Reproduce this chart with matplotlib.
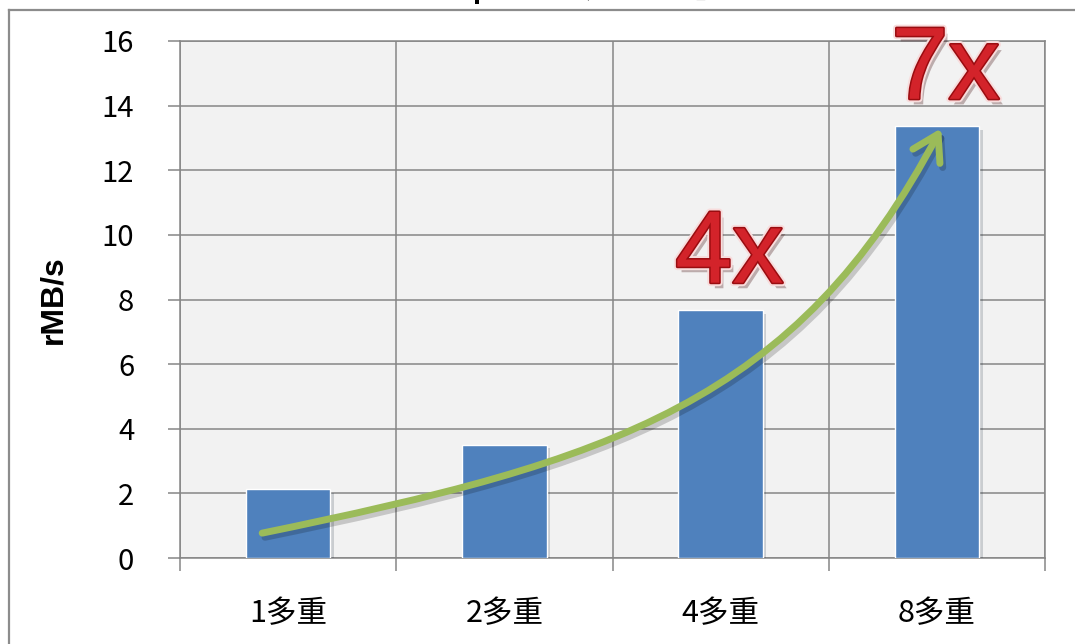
import matplotlib
matplotlib.use("Agg")
import matplotlib.pyplot as plt
import matplotlib.patheffects as pe
import matplotlib.transforms as mtransforms
from matplotlib.path import Path
from matplotlib.patches import FancyArrowPatch
from matplotlib.lines import Line2D

plt.rcParams['font.family'] = ['Noto Sans CJK JP', 'DejaVu Sans']

# Replicat throughput by degree of parallelism
categories = ['1多重', '2多重', '4多重', '8多重']
throughput = [2.12, 3.50, 7.67, 13.36]
speedup_labels = {2: '4x', 3: '7x'}
y_ticks = [0, 2, 4, 6, 8, 10, 12, 14, 16]
title = '【Replicat の処理性能】'
y_label = 'rMB/s'

bar_color = '#4F81BD'
arrow_color = '#9BBB59'
grid_color = '#868686'
plot_bg = '#F2F2F2'

fig = plt.figure(figsize=(10.75, 6.44), dpi=100)
ax = fig.add_axes([180 / 1075, 1 - 558 / 644, 865 / 1075, 517 / 644])
ax.set_facecolor(plot_bg)

x = list(range(len(categories)))
bars = ax.bar(x, throughput, width=0.39, color=bar_color, edgecolor='white',
              linewidth=1.0, zorder=3)
for b in bars:
    b.set_path_effects([pe.SimplePatchShadow(offset=(2.5, -2.5), alpha=0.18),
                        pe.Normal()])

ax.set_xlim(-0.5, len(categories) - 0.5)
ax.set_ylim(y_ticks[0], y_ticks[-1])
ax.set_yticks(y_ticks)
ax.set_yticklabels([str(v) for v in y_ticks], fontsize=21)

# category boundaries carry the vertical grid and the x tick marks
bounds = [i - 0.5 for i in range(len(categories) + 1)]
ax.set_xticks(bounds)
ax.set_xticklabels([''] * len(bounds))
ax.set_xticks(x, minor=True)
ax.set_xticklabels(categories, minor=True, fontsize=22)
ax.tick_params(axis='x', which='minor', length=0, pad=29)
ax.tick_params(axis='x', which='major', length=9, width=1.1, color=grid_color)
ax.tick_params(axis='y', length=9, width=1.1, color=grid_color, pad=24)

ax.grid(True, which='major', color=grid_color, linewidth=1.1, zorder=1)
ax.set_axisbelow(True)
for s in ax.spines.values():
    s.set_color(grid_color)
    s.set_linewidth(1.1)

ax.set_ylabel(y_label, fontsize=23, fontweight='bold', labelpad=24,
              family='Liberation Sans')

# growth arrow sweeping over the bars, with a soft drop shadow
verts = [(-0.12, 0.77), (1.5, 3.0), (2.35, 4.8), (3.02, 13.3)]
codes = [Path.MOVETO, Path.CURVE4, Path.CURVE4, Path.CURVE4]
arrow_style = '->,head_length=0.9,head_width=0.55'
shadow_tf = ax.transData + mtransforms.ScaledTranslation(2 / 72, -3 / 72,
                                                         fig.dpi_scale_trans)
for tf, col, alpha, z in [(shadow_tf, '#000000', 0.18, 4),
                          (ax.transData, arrow_color, 1.0, 5)]:
    arrow = FancyArrowPatch(path=Path(verts, codes), arrowstyle=arrow_style,
                            mutation_scale=20, color=col, alpha=alpha,
                            linewidth=5, capstyle='round', joinstyle='round',
                            transform=tf, zorder=z)
    ax.add_patch(arrow)

# speed-up callouts above the bars
for idx, txt in speedup_labels.items():
    ax.text(idx + 0.04, throughput[idx] + 0.85, txt, ha='center', va='baseline',
            fontsize=74, family='Liberation Sans', color='#D3232A', zorder=6,
            clip_on=False,
            path_effects=[pe.withSimplePatchShadow(offset=(3, -4), alpha=0.3),
                          pe.Stroke(linewidth=5, foreground='#F8DCDC'),
                          pe.Stroke(linewidth=2.2, foreground='#9A0C10'),
                          pe.Normal()])

# chart frame and title
fig.add_artist(Line2D([9 / 1075, 1.0], [1 - 10 / 644, 1 - 10 / 644],
                      transform=fig.transFigure, color='#8C8C8C', linewidth=1.6))
fig.add_artist(Line2D([9 / 1075, 9 / 1075], [0.0, 1 - 10 / 644],
                      transform=fig.transFigure, color='#8C8C8C', linewidth=1.6))
fig.text(567 / 1075, 1 - 4 / 644, title, ha='center', va='bottom',
         fontsize=20, fontweight='bold')

fig.savefig('out.png', dpi=100)
